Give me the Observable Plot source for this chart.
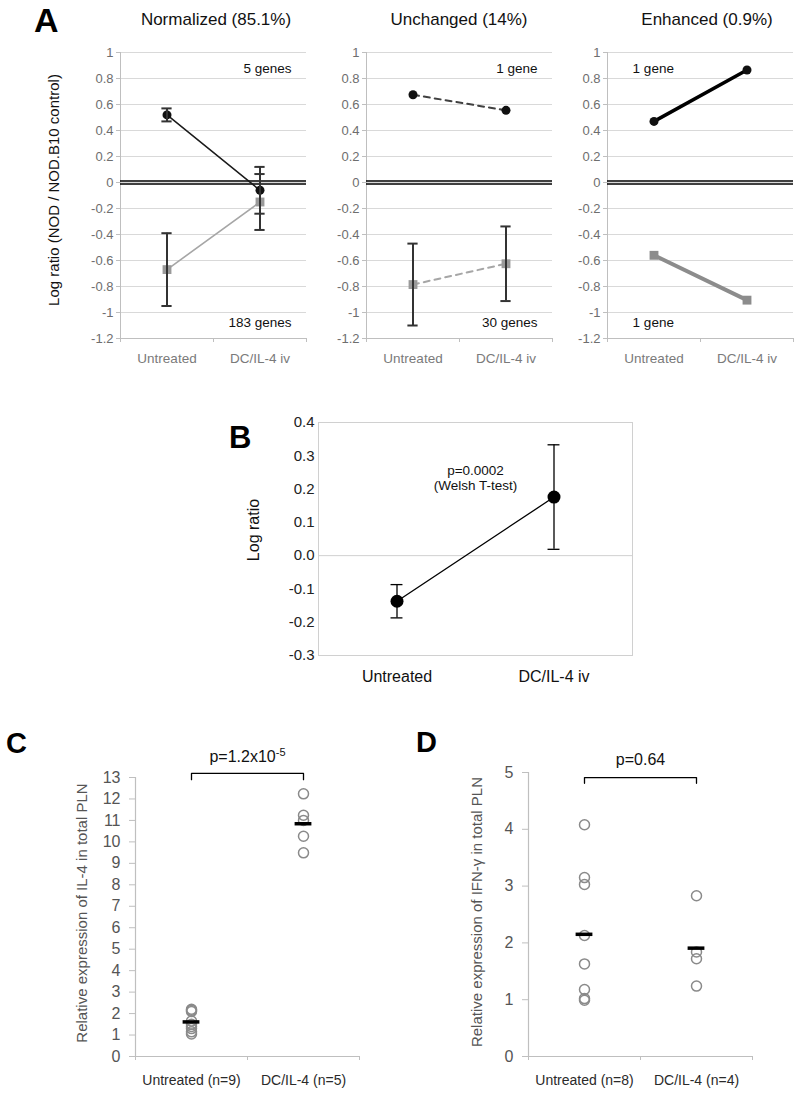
<!DOCTYPE html>
<html>
<head>
<meta charset="utf-8">
<script src="https://cdn.jsdelivr.net/npm/d3@7"></script>
<script src="https://cdn.jsdelivr.net/npm/@observablehq/plot@0.6"></script>
<style>
  html, body { margin: 0; padding: 0; background: #fff; }
  #fig { position: relative; width: 800px; height: 1101px; background: #fff; overflow: hidden;
         font-family: "Liberation Sans", Arial, Helvetica, sans-serif; }
  #fig svg { background: transparent; }
</style>
</head>
<body>
<div id="fig"></div>
<script>
// ---------------- DATA ----------------
// Panel A
const aCategories = ["Untreated", "DC/IL-4 iv"];
const aTitles = ["Normalized (85.1%)", "Unchanged (14%)", "Enhanced (0.9%)"];
const aTicks = [-1.2, -1, -0.8, -0.6, -0.4, -0.2, 0, 0.2, 0.4, 0.6, 0.8, 1];
const aUpMean = [[0.52, -0.06], [0.675, 0.555], [0.47, 0.865]];
const aUpErr = [[0.05, 0.18], [null, null], [null, null]];
const aDownMean = [[-0.67, -0.15], [-0.785, -0.625], [-0.56, -0.905]];
const aDownErr = [[0.28, 0.215], [0.315, 0.287], [null, null]];
const aUpGenes = ["5 genes", "1 gene", "1 gene"];
const aDownGenes = ["183 genes", "30 genes", "1 gene"];
const aYLabel = "Log ratio (NOD / NOD.B10 control)";

// Panel B
const bCategories = ["Untreated", "DC/IL-4 iv"];
const bTicks = [-0.3, -0.2, -0.1, 0, 0.1, 0.2, 0.3, 0.4];
const bMean = [-0.137, 0.176];
const bErr = [0.05, 0.157];
const bNote = "p=0.0002\n(Welsh T-test)";
const bYLabel = "Log ratio";

// Panel C
const cCategories = ["Untreated (n=9)", "DC/IL-4 (n=5)"];
const cValues = [[2.2, 2.15, 2.1, 1.65, 1.5, 1.4, 1.3, 1.15, 1.05], [12.24, 11.24, 11.0, 10.26, 9.49]];
const cTicks = [0, 1, 2, 3, 4, 5, 6, 7, 8, 9, 10, 11, 12, 13];
const cP = "p=1.2x10-5";
const cYLabel = "Relative expression of IL-4 in total PLN";

// Panel D
const dCategories = ["Untreated (n=8)", "DC/IL-4 (n=4)"];
const dValues = [[4.08, 3.15, 3.03, 2.13, 1.63, 1.18, 1.02, 0.99], [2.83, 1.84, 1.72, 1.24]];
const dTicks = [0, 1, 2, 3, 4, 5];
const dP = "p=0.64";
const dYLabel = "Relative expression of IFN-\u03B3 in total PLN";

// ---------------- HELPERS ----------------
const FONT = '"Liberation Sans", Arial, Helvetica, sans-serif';
const fig = document.getElementById("fig");
function put(node, left, top) {
  node.style.position = "absolute";
  node.style.left = left + "px";
  node.style.top = top + "px";
  fig.appendChild(node);
}
const fmt1 = d => String(Math.round(d * 10) / 10);

// ---------------- PANEL A ----------------
const aLefts = [120, 366, 607];
const aStyles = [
  {up: "#1a1a1a", upW: 1.5, down: "#a6a6a6", downW: 1.6, dash: null, sq: "#9a9a9a"},
  {up: "#404040", upW: 2, down: "#a6a6a6", downW: 2, dash: "6,5", sq: "#9a9a9a"},
  {up: "#000000", upW: 3.5, down: "#8c8c8c", downW: 4, dash: null, sq: "#8c8c8c"}
];
aTitles.forEach((title, k) => {
  const st = aStyles[k];
  const up = aCategories.map((c, i) => ({x: i + 0.5, y: aUpMean[k][i], e: aUpErr[k][i]}));
  const down = aCategories.map((c, i) => ({x: i + 0.5, y: aDownMean[k][i], e: aDownErr[k][i]}));
  const errs = [...up, ...down].filter(d => d.e != null).map(d => ({x: d.x, lo: d.y - d.e, hi: d.y + d.e}));
  const cap = 0.055;
  const right = k !== 2;
  const gx = right ? 1.84 : 0.27;
  const anchor = right ? "end" : "start";
  const p = Plot.plot({
    width: 45 + 186 + 5, height: 10 + 286 + 40,
    marginLeft: 45, marginRight: 5, marginTop: 10, marginBottom: 40,
    x: {domain: [0, 2]},
    y: {domain: [-1.2, 1]},
    style: {fontFamily: FONT, fontSize: "13px", background: "transparent", overflow: "visible"},
    marks: [
      Plot.ruleY(aTicks, {stroke: "#d9d9d9", strokeWidth: 1}),
      Plot.ruleX([0], {stroke: "#bfbfbf"}),
      Plot.ruleY([-1.2], {stroke: "#bfbfbf"}),
      Plot.axisY({ticks: aTicks, tickFormat: fmt1, tickSize: 4, tickPadding: 3, stroke: "#bfbfbf", fill: "#6e6e6e", fontSize: 13, label: null}),
      Plot.axisX({ticks: [0, 1, 2], tickFormat: () => "", tickSize: 4, stroke: "#bfbfbf", label: null}),
      Plot.axisX({ticks: [0.5, 1.5], tickFormat: v => aCategories[Math.floor(v)], tickSize: 0, tickPadding: 15, fill: "#7a7a7a", fontSize: 13.5, label: null}),
      Plot.ruleY([0], {stroke: "#000", strokeWidth: 1.5, dy: -1.5}),
      Plot.ruleY([0], {stroke: "#000", strokeWidth: 1.5, dy: 1.5}),
      Plot.line(down, {x: "x", y: "y", stroke: st.down, strokeWidth: st.downW, strokeDasharray: st.dash}),
      Plot.line(up, {x: "x", y: "y", stroke: st.up, strokeWidth: st.upW, strokeDasharray: st.dash}),
      Plot.dot(down, {x: "x", y: "y", symbol: "square", r: 5, fill: st.sq, stroke: "none"}),
      Plot.dot(up, {x: "x", y: "y", r: 4.5, fill: "#111", stroke: "none"}),
      Plot.ruleX(errs, {x: "x", y1: "lo", y2: "hi", stroke: "#333", strokeWidth: 2}),
      Plot.ruleY(errs, {y: "lo", x1: d => d.x - cap, x2: d => d.x + cap, stroke: "#333", strokeWidth: 2}),
      Plot.ruleY(errs, {y: "hi", x1: d => d.x - cap, x2: d => d.x + cap, stroke: "#333", strokeWidth: 2}),
      Plot.text([aUpGenes[k]], {x: gx, y: 0.875, text: d => d, textAnchor: anchor, fontSize: 13.5, fill: "#111"}),
      Plot.text([aDownGenes[k]], {x: gx, y: -1.075, text: d => d, textAnchor: anchor, fontSize: 13.5, fill: "#111"})
    ]
  });
  put(p, aLefts[k] - 45, 42);
});

// ---------------- PANEL B ----------------
{
  const pts = bCategories.map((c, i) => ({x: i + 0.5, y: bMean[i], lo: bMean[i] - bErr[i], hi: bMean[i] + bErr[i]}));
  const cap = 0.038;
  const p = Plot.plot({
    width: 80 + 314 + 6, height: 10 + 233 + 40,
    marginLeft: 80, marginRight: 6, marginTop: 10, marginBottom: 40,
    x: {domain: [0, 2]},
    y: {domain: [-0.3, 0.4]},
    style: {fontFamily: FONT, fontSize: "15px", background: "transparent", overflow: "visible"},
    marks: [
      Plot.frame({stroke: "#d0d0d0"}),
      Plot.ruleY([0], {stroke: "#d0d0d0"}),
      Plot.axisY({ticks: bTicks, tickFormat: d => d.toFixed(1), tickSize: 0, tickPadding: 4, fill: "#222", fontSize: 15, label: null}),
      Plot.axisX({ticks: [0.5, 1.5], tickFormat: v => bCategories[Math.floor(v)], tickSize: 0, tickPadding: 15, fill: "#111", fontSize: 16, label: null}),
      Plot.line(pts, {x: "x", y: "y", stroke: "#000", strokeWidth: 1.3}),
      Plot.ruleX(pts, {x: "x", y1: "lo", y2: "hi", stroke: "#000", strokeWidth: 1.3}),
      Plot.ruleY(pts, {y: "lo", x1: d => d.x - cap, x2: d => d.x + cap, stroke: "#000", strokeWidth: 1.3}),
      Plot.ruleY(pts, {y: "hi", x1: d => d.x - cap, x2: d => d.x + cap, stroke: "#000", strokeWidth: 1.3}),
      Plot.dot(pts, {x: "x", y: "y", r: 6.5, fill: "#000", stroke: "none"}),
      Plot.text([bNote], {x: 1, y: 0.235, text: d => d, fontSize: 13.5, lineHeight: 1.18, fill: "#111"})
    ]
  });
  put(p, 318 - 80, 412);
}

// ---------------- PANELS C & D ----------------
function scatterPanel(cats, values, ticks, ymax, bracket, ptext, left, top, frameH) {
  const pts = [];
  values.forEach((vals, i) => vals.forEach(v => pts.push({x: i + 0.5, y: v})));
  const means = values.map((vals, i) => ({x: i + 0.5, y: d3.mean(vals)}));
  const bw = 0.075;
  const br = [
    {x: 0.5, y: bracket.leg}, {x: 0.5, y: bracket.top},
    {x: 1.5, y: bracket.top}, {x: 1.5, y: bracket.leg}
  ];
  const p = Plot.plot({
    width: 80 + 224 + 10, height: 45 + frameH + 45,
    marginLeft: 80, marginRight: 10, marginTop: 45, marginBottom: 45,
    x: {domain: [0, 2]},
    y: {domain: [0, ymax]},
    style: {fontFamily: FONT, fontSize: "15px", background: "transparent", overflow: "visible"},
    marks: [
      Plot.ruleX([0], {stroke: "#bfbfbf", strokeWidth: 1.2}),
      Plot.ruleY([0], {stroke: "#bfbfbf", strokeWidth: 1.2}),
      Plot.axisY({ticks, tickFormat: d => String(d), tickSize: 6, tickPadding: 9, stroke: "#bfbfbf", fill: "#555", fontSize: 16, label: null}),
      Plot.axisX({ticks: [0, 1, 2], tickFormat: () => "", tickSize: 4, stroke: "#bfbfbf", label: null}),
      Plot.axisX({ticks: [0.5, 1.5], tickFormat: v => cats[Math.floor(v)], tickSize: 0, tickPadding: 19, fill: "#2a2a2a", fontSize: 14, label: null}),
      Plot.dot(pts, {x: "x", y: "y", r: 5, stroke: "#8a8a8a", strokeWidth: 1.5, fill: "none"}),
      Plot.ruleY(means, {y: "y", x1: d => d.x - bw, x2: d => d.x + bw, stroke: "#000", strokeWidth: 3.5}),
      Plot.line(br, {x: "x", y: "y", stroke: "#000", strokeWidth: 1.3}),
      Plot.text([ptext], {x: 1, y: bracket.label, text: d => d, fontSize: 16, fill: "#111"})
    ]
  });
  put(p, left, top);
  return p;
}
const pc = scatterPanel(cCategories, cValues, cTicks, 13, {top: 13.19, leg: 12.9, label: 13.95}, cP, 135 - 80, 777 - 45, 279);
scatterPanel(dCategories, dValues, dTicks, 5, {top: 4.91, leg: 4.81, label: 5.22}, dP, 528 - 80, 772 - 45, 284);

// superscript for the C p-value
pc.querySelectorAll("text").forEach(t => {
  if (t.textContent === cP) {
    const m = cP.match(/^(.*x10)(.*)$/);
    t.textContent = m[1];
    const ts = document.createElementNS("http://www.w3.org/2000/svg", "tspan");
    ts.setAttribute("dy", "-0.55em");
    ts.setAttribute("font-size", "11");
    ts.textContent = m[2];
    t.appendChild(ts);
  }
});

// ---------------- OVERLAY: panel letters, titles, axis titles ----------------
const NS = "http://www.w3.org/2000/svg";
const ov = document.createElementNS(NS, "svg");
ov.setAttribute("width", 800); ov.setAttribute("height", 1101);
ov.style.pointerEvents = "none";
function txt(s, x, y, o = {}) {
  const t = document.createElementNS(NS, "text");
  t.setAttribute("x", x); t.setAttribute("y", y);
  t.setAttribute("font-family", FONT);
  t.setAttribute("font-size", o.size || 16);
  if (o.weight) t.setAttribute("font-weight", o.weight);
  t.setAttribute("fill", o.fill || "#111");
  t.setAttribute("text-anchor", o.anchor || "start");
  if (o.rotate) {
    t.setAttribute("transform", `rotate(-90 ${x} ${y})`);
    t.setAttribute("dominant-baseline", "middle");
  }
  t.textContent = s;
  ov.appendChild(t);
}
txt("A", 34, 32, {size: 34, weight: "bold", fill: "#000"});
txt("B", 229, 448, {size: 31, weight: "bold", fill: "#000"});
txt("C", 6, 753, {size: 29, weight: "bold", fill: "#000"});
txt("D", 416, 752, {size: 29, weight: "bold", fill: "#000"});
const titleX = [216, 459, 707];
aTitles.forEach((t, k) => txt(t, titleX[k], 25, {size: 17, anchor: "middle", fill: "#111"}));
txt(aYLabel, 55, 190, {size: 15, anchor: "middle", rotate: true, fill: "#111"});
txt(bYLabel, 255, 530, {size: 16, anchor: "middle", rotate: true, fill: "#111"});
txt(cYLabel, 83, 913, {size: 15, anchor: "middle", rotate: true, fill: "#555"});
txt(dYLabel, 478, 912, {size: 15, anchor: "middle", rotate: true, fill: "#555"});
put(ov, 0, 0);
</script>
</body>
</html>
